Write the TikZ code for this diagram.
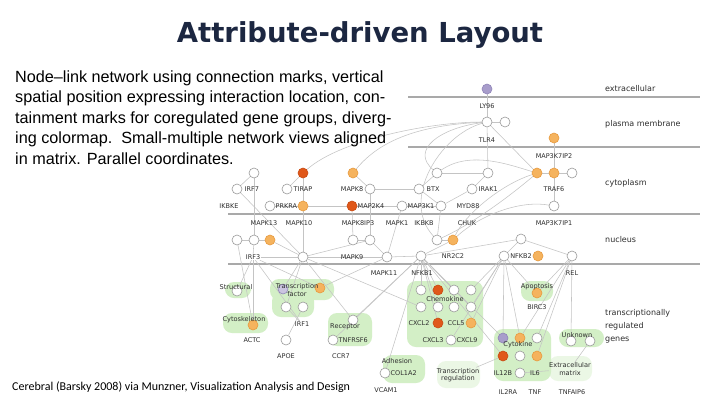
\documentclass[tikz,border=0pt]{standalone}
\usepackage{fontspec}
\setmainfont{Liberation Sans}
\newfontfamily\titlefont{DejaVu Sans}
\newfontfamily\labfont{DejaVu Sans}
\newfontfamily\capfont{Carlito}
\definecolor{titleblue}{HTML}{1C2741}
\definecolor{orl}{HTML}{F5B35E}
\definecolor{orlb}{HTML}{E79A3E}
\definecolor{ord}{HTML}{E0581A}
\definecolor{ordb}{HTML}{C84A12}
\definecolor{lav}{HTML}{A89DCB}
\definecolor{lavb}{HTML}{8F84B8}
\definecolor{nodeb}{HTML}{9A9A9A}
\definecolor{sepc}{HTML}{A9A9A9}
\definecolor{edgec}{HTML}{C4C4C4}
\definecolor{blob}{HTML}{D3EFC6}
\definecolor{labc}{HTML}{2E2E2E}
\pgfdeclarelayer{blobl}
\pgfdeclarelayer{edgel}
\pgfsetlayers{blobl,edgel,main}
\tikzset{
  wn/.style={circle,draw=nodeb,fill=white,line width=0.6pt,minimum size=10pt,inner sep=0pt},
  on/.style={circle,draw=orlb,fill=orl,line width=0.6pt,minimum size=10pt,inner sep=0pt},
  dn/.style={circle,draw=ordb,fill=ord,line width=0.6pt,minimum size=10pt,inner sep=0pt},
  ln/.style={circle,draw=lavb,fill=lav,line width=0.6pt,minimum size=10pt,inner sep=0pt},
  lab/.style={font=\labfont\fontsize{6.5}{7.5}\selectfont,text=labc,inner sep=0.5pt},
  grp/.style={font=\labfont\fontsize{6.6}{7.6}\selectfont,text=labc,inner sep=0.5pt,align=center},
  reg/.style={font=\labfont\fontsize{8}{10}\selectfont,text=labc,anchor=west,inner sep=0pt,align=left},
  sep/.style={draw=sepc,line width=1.3pt},
  edg/.style={draw=edgec,line width=0.55pt},
  gblob/.style={fill=blob,draw=none,rounded corners=9pt},
  desc/.style={font=\fontsize{16.2}{19}\selectfont,anchor=west,inner sep=0pt,text=black}
}
\begin{document}
\begin{tikzpicture}[x=1pt,y=-1pt]
\useasboundingbox (0,0) rectangle (720,405);
\begin{pgfonlayer}{blobl}
\fill[white] (0,0) rectangle (720,405);
\end{pgfonlayer}

% title and description
\node[font=\titlefont\bfseries\fontsize{27.5}{32}\selectfont,text=titleblue] (title) at (360,35) {Attribute-driven Layout};
\node[desc] (d1) at (15,78) {Node--link network using connection marks, vertical};
\node[desc] (d2) at (15,98.5) {spatial position expressing interaction location, con-};
\node[desc] (d3) at (15,119) {tainment marks for coregulated gene groups, diverg-};
\node[desc] (d4) at (15,139) {ing colormap.\ \ Small-multiple network views aligned};
\node[desc] (d5) at (15,158.5) {in matrix. Parallel coordinates.};
\node[font=\capfont\fontsize{12}{14}\selectfont,anchor=west,inner sep=0pt] (cap) at (12,387) {Cerebral (Barsky 2008) via Munzner, Visualization Analysis and Design};

% layer separators
\coordinate (s1a) at (408,97); \coordinate (s1b) at (700,97);
\coordinate (s2a) at (408,147); \coordinate (s2b) at (700,147);
\coordinate (s3a) at (228,214); \coordinate (s3b) at (700,214);
\coordinate (s4a) at (228,264); \coordinate (s4b) at (700,264);
\begin{pgfonlayer}{edgel}
\draw[sep] (s1a) -- (s1b);
\draw[sep] (s2a) -- (s2b);
\draw[sep] (s3a) -- (s3b);
\draw[sep] (s4a) -- (s4b);
\end{pgfonlayer}

% region labels
\node[reg] (r1) at (605,89) {extracellular};
\node[reg] (r2) at (605,124) {plasma membrane};
\node[reg] (r3) at (605,183) {cytoplasm};
\node[reg] (r4) at (605,240) {nucleus};
\node[reg,font=\labfont\fontsize{8}{13}\selectfont] (r5) at (605,326) {transcriptionally\\regulated\\genes};

% green group blobs
\begin{pgfonlayer}{blobl}
\fill[gblob] (225,282) rectangle (251,298);
\fill[gblob] (270,279) rectangle (334,300);
\fill[gblob] (272,292) rectangle (314,317);
\fill[gblob] (223,313) rectangle (268,333);
\fill[gblob] (328,313) rectangle (372,346);
\fill[gblob] (407,281) rectangle (483,347);
\fill[gblob] (521,281) rectangle (553,301);
\fill[gblob] (494,329) rectangle (551,381);
\fill[gblob] (559,329) rectangle (604,347);
\fill[gblob] (383,355) rectangle (425,383);
\fill[gblob,opacity=0.45] (437,361) rectangle (480,388);
\fill[gblob,opacity=0.45] (549,356) rectangle (592,381);
\end{pgfonlayer}

% ---------- nodes ----------
% extracellular / membrane
\node[ln] (ly96) at (487,89) {};
\node[lab] (tly96) at (487,106) {LY96};
\node[wn] (tlr4) at (487,122) {};
\node[wn] (tlr4b) at (505,122) {};
\node[lab] (ttlr4) at (487,140) {TLR4};
\node[on] (m3k7ip2) at (554,138) {};
\node[lab] (tm3k7ip2) at (554,156) {MAP3K7IP2};

% cytoplasm
\node[wn] (c1) at (254,173) {};
\node[wn] (irf7) at (237,189) {};
\node[lab,anchor=west] (tirf7) at (244,189) {IRF7};
\node[dn] (c2) at (303,173) {};
\node[wn] (tirap) at (287,189) {};
\node[lab,anchor=west] (ttirap) at (293,189) {TIRAP};
\node[on] (c3) at (353,173) {};
\node[lab,anchor=east] (tmapk8) at (364,189) {MAPK8};
\node[wn] (mapk8) at (370,189) {};
\node[wn] (c4) at (437,173) {};
\node[wn] (btx) at (419,189) {};
\node[lab,anchor=west] (tbtx) at (426,189) {BTX};
\node[wn] (c5) at (488,173) {};
\node[wn] (irak1) at (472,189) {};
\node[lab,anchor=west] (tirak1) at (478,189) {IRAK1};
\node[on] (traf6a) at (537,173) {};
\node[on] (traf6b) at (554,173) {};
\node[wn] (traf6c) at (572,173) {};
\node[lab] (ttraf6) at (554,189) {TRAF6};
\node[wn] (m3k7ip1) at (554,206) {};

\node[lab] (tikbke) at (229,206) {IKBKE};
\node[wn] (prkra) at (270,206) {};
\node[lab,anchor=west] (tprkra) at (275,206) {PRKRA};
\node[on] (prkrao) at (303,206) {};
\node[dn] (map2k4) at (352,206) {};
\node[lab,anchor=west] (tmap2k4) at (357,206) {MAP2K4};
\node[wn] (map3k1) at (402,206) {};
\node[lab,anchor=west] (tmap3k1) at (407,206) {MAP3K1};
\node[wn] (map3k1b) at (441,206) {};
\node[lab] (tmyd88) at (468,206) {MYD88};

% labels below cytoplasm line
\node[lab] (tmapk13) at (264,223) {MAPK13};
\node[lab] (tmapk10) at (299,223) {MAPK10};
\node[lab] (tmapk8ip3) at (358,223) {MAPK8IP3};
\node[lab] (tmapk1) at (397,223) {MAPK1};
\node[lab] (tikbkb) at (424,223) {IKBKB};
\node[lab] (tchuk) at (467,223) {CHUK};
\node[lab] (tm3k7ip1) at (554,223) {MAP3K7IP1};

% nucleus
\node[wn] (n1) at (237,240) {};
\node[wn] (n2) at (254,240) {};
\node[on] (n3) at (270,240) {};
\node[wn] (n4) at (353,240) {};
\node[wn] (n5) at (370,240) {};
\node[wn] (n6) at (437,240) {};
\node[on] (n7) at (453,240) {};
\node[wn] (n8) at (521,239) {};
\node[lab] (tirf3) at (253,257) {IRF3};
\node[wn] (n9) at (303,257) {};
\node[lab] (tmapk9) at (352,257) {MAPK9};
\node[wn] (mapk9) at (387,257) {};
\node[wn] (nr2c2) at (421,256) {};
\node[lab] (tnr2c2) at (453,256) {NR2C2};
\node[wn] (nfkb2) at (504,256) {};
\node[lab] (tnfkb2) at (521,256) {NFKB2};
\node[on] (nfkb2o) at (538,256) {};
\node[wn] (rel) at (572,256) {};
\node[lab] (trel) at (572,273) {REL};
\node[lab] (tmapk11) at (384,273) {MAPK11};
\node[lab] (tnfkb1) at (422,273) {NFKB1};

% transcriptionally regulated genes
\node[wn] (g1) at (237,291) {};
\node[grp] (tstruct) at (236,287) {Structural};
\node[ln,fill=lav!60] (g2) at (283,289) {};
\node[on] (g3) at (320,288) {};
\node[grp] (ttf) at (297,290) {Transcription\\factor};
\node[wn] (g4) at (286,307) {};
\node[wn] (g5) at (303,307) {};
\node[on] (g6) at (253,325) {};
\node[grp] (tcyto) at (244,320) {Cytoskeleton};
\node[lab] (tirf1) at (302,324) {IRF1};
\node[wn] (g7) at (353,320) {};
\node[grp] (trecep) at (345,327) {Receptor};
\node[lab] (tactc) at (252,340) {ACTC};
\node[wn] (apoe) at (286,340) {};
\node[lab] (tapoe) at (286,356) {APOE};
\node[wn] (tnfrsf6) at (333,340) {};
\node[lab,anchor=west] (ttnfrsf6) at (338,340) {TNFRSF6};
\node[lab] (tccr7) at (341,356) {CCR7};

% chemokine cluster
\node[wn] (k11) at (421,290) {};
\node[dn] (k12) at (438,290) {};
\node[wn] (k13) at (454,290) {};
\node[wn] (k14) at (471,290) {};
\node[grp] (tchemo) at (445,299) {Chemokine};
\node[wn] (k21) at (421,307) {};
\node[wn] (k22) at (438,307) {};
\node[wn] (k23) at (454,307) {};
\node[wn] (k24) at (471,307) {};
\node[lab] (tcxcl2) at (419,323) {CXCL2};
\node[dn] (k32) at (438,323) {};
\node[lab] (tccl5) at (456,323) {CCL5};
\node[on] (k34) at (471,323) {};
\node[lab] (tcxcl3) at (433,340) {CXCL3};
\node[wn] (k42) at (451,340) {};
\node[lab,anchor=west] (tcxcl9) at (456,340) {CXCL9};

% apoptosis
\node[on] (ap) at (537,293) {};
\node[grp] (tapop) at (537,287) {Apoptosis};
\node[lab] (tbirc3) at (537,307) {BIRC3};

% cytokine cluster
\node[ln] (y11) at (503,338) {};
\node[on] (y12) at (520,338) {};
\node[wn] (y13) at (537,338) {};
\node[grp] (tcytok) at (518,345) {Cytokine};
\node[dn] (y21) at (503,356) {};
\node[wn] (y22) at (520,356) {};
\node[on] (y23) at (537,356) {};
\node[lab] (til12b) at (503,373) {IL12B};
\node[wn] (y32) at (520,373) {};
\node[lab] (til6) at (535,373) {IL6};
\node[lab] (til2ra) at (508,392) {IL2RA};
\node[lab] (ttnf) at (535,392) {TNF};
\node[lab] (ttnfaip6) at (572,392) {TNFAIP6};

% unknown / ECM / adhesion / regulation
\node[wn] (u1) at (571,341) {};
\node[wn] (u2) at (590,341) {};
\node[grp] (tunk) at (577,335) {Unknown};
\node[grp] (tecm) at (570,369) {Extracellular\\matrix};
\node[grp] (tadh) at (397,361) {Adhesion};
\node[wn] (col1a2) at (385,373) {};
\node[lab,anchor=west] (tcol1a2) at (390,373) {COL1A2};
\node[lab] (tvcam1) at (386,390) {VCAM1};
\node[grp] (ttreg) at (458,375) {Transcription\\regulation};

% ---------- edges (drawn beneath the nodes) ----------
\begin{pgfonlayer}{edgel}
\draw[edg] (ly96) -- (tlr4);
\draw[edg] (tlr4) -- (tlr4b);
\draw[edg] (tlr4) -- (c5);
\draw[edg] (tlr4) -- (traf6a);
\draw[edg] (tlr4) .. controls (440,128) and (410,150) .. (c4);
\draw[edg] (tlr4) .. controls (420,125) and (380,140) .. (c3);
\draw[edg] (tlr4) .. controls (440,135) and (400,200) .. (n6);
\draw[edg] (tlr4) .. controls (430,122) and (340,140) .. (c2);
\draw[edg] (m3k7ip2) -- (traf6b);
\draw[edg] (traf6a) -- (traf6b);
\draw[edg] (traf6b) -- (traf6c);
\draw[edg] (traf6b) -- (m3k7ip1);
\draw[edg] (traf6a) .. controls (500,185) and (465,215) .. (n7);
\draw[edg] (traf6a) .. controls (505,200) and (470,225) .. (n6);
\draw[edg] (traf6a) .. controls (510,165) and (470,150) .. (c4);
\draw[edg] (m3k7ip1) .. controls (520,200) and (480,215) .. (n7);
\draw[edg] (c5) -- (irak1);
\draw[edg] (c5) -- (c4);
\draw[edg] (irak1) -- (map3k1b);
\draw[edg] (c4) -- (btx);
\draw[edg] (btx) -- (map3k1b);
\draw[edg] (btx) -- (mapk8);
\draw[edg] (c1) -- (irf7);
\draw[edg] (c1) -- (n2);
\draw[edg] (c2) -- (tirap);
\draw[edg] (c2) -- (n9);
\draw[edg] (c3) -- (mapk8);
\draw[edg] (mapk8) -- (n5);
\draw[edg] (irf7) -- (n9);
\draw[edg] (prkra) -- (prkrao);
\draw[edg] (prkrao) -- (map2k4);
\draw[edg] (map2k4) -- (map3k1);
\draw[edg] (map3k1) -- (map3k1b);
\draw[edg] (map2k4) -- (n4);
\draw[edg] (map3k1) -- (mapk9);
\draw[edg] (map3k1b) -- (n6);
\draw[edg] (n1) -- (n2);
\draw[edg] (n2) -- (n3);
\draw[edg] (n4) -- (n5);
\draw[edg] (n6) -- (n7);
\draw[edg] (n2) -- (tirf3);
\draw[edg] (n5) -- (n9);
\draw[edg] (n5) -- (mapk9);
\draw[edg] (n3) -- (n9);
\draw[edg] (tirf3) -- (n9);
\draw[edg] (n9) -- (mapk9);
\draw[edg] (mapk9) -- (nr2c2);
\draw[edg] (n7) -- (nr2c2);
\draw[edg] (n8) -- (nr2c2);
\draw[edg] (n8) -- (nfkb2);
\draw[edg] (n8) -- (rel);
\draw[edg] (n9) -- (g2);
\draw[edg] (n9) -- (g4);
\draw[edg] (n9) -- (g7);
\draw[edg] (n9) -- (k21);
\draw[edg] (tirf3) -- (g1);
\draw[edg] (tirf3) -- (g6);
\draw[edg] (tirf3) -- (g3);
\draw[edg] (n1) -- (g6);
\draw[edg] (tirf3) -- (tirf1);
\draw[edg] (mapk9) -- (g3);
\draw[edg] (nr2c2) -- (k11);
\draw[edg] (nr2c2) -- (k12);
\draw[edg] (nr2c2) -- (k13);
\draw[edg] (nr2c2) -- (k22);
\draw[edg] (nr2c2) -- (k24);
\draw[edg] (nr2c2) -- (k32);
\draw[edg] (nr2c2) -- (y11);
\draw[edg] (nr2c2) -- (y21);
\draw[edg] (nr2c2) -- (g7);
\draw[edg] (nr2c2) -- (col1a2);
\draw[edg] (nr2c2) -- (tnfrsf6);
\draw[edg] (nfkb2) -- (k14);
\draw[edg] (nfkb2) -- (k24);
\draw[edg] (nfkb2) -- (k34);
\draw[edg] (nfkb2) -- (y11);
\draw[edg] (nfkb2) -- (y12);
\draw[edg] (nfkb2) -- (ap);
\draw[edg] (nfkb2) -- (k42);
\draw[edg] (rel) -- (ap);
\draw[edg] (rel) -- (y12);
\draw[edg] (rel) -- (y13);
\draw[edg] (rel) -- (u1);
\draw[edg] (rel) -- (y23);
\draw[edg] (y21) -- (ttreg);
\draw[edg] (y32) -- (tecm);
\draw[edg] (u2) -- (tecm);
\draw[edg] (g5) -- (apoe);
\draw[edg] (g4) -- (tirf1);
\end{pgfonlayer}
\end{tikzpicture}
\end{document}
